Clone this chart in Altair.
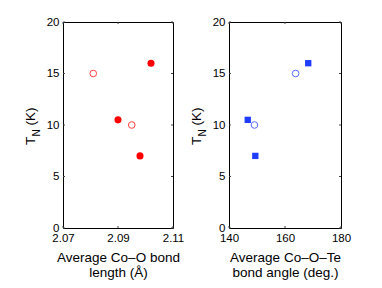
import altair as alt
import pandas as pd

# ---- data ----
bond_len_filled = [2.090, 2.098, 2.102]
tn_len_filled = [10.5, 7.0, 16.0]
bond_len_open = [2.081, 2.095]
tn_len_open = [15.0, 10.0]

angle_filled = [146.7, 149.4, 168.3]
tn_ang_filled = [10.5, 7.0, 16.0]
angle_open = [149.1, 163.8]
tn_ang_open = [10.0, 15.0]

x1_ticks = [2.07, 2.09, 2.11]
x2_ticks = [140, 160, 180]
y_ticks = [0, 5, 10, 15, 20]

RED = "#ff0000"
BLUE = "#1f3cff"
FONT = "Liberation Sans"
W1, W2, H = 110, 112, 206


def panel(xf, yf, xo, yo, xticks, xdom, color, shape, size, xtitle, width, fmt):
    xs = alt.Scale(domain=xdom, nice=False, zero=False)
    ys = alt.Scale(domain=[0, 20], nice=False)
    filled = pd.DataFrame({"x": xf, "y": yf})
    opened = pd.DataFrame({"x": xo, "y": yo})
    xt = pd.DataFrame({"x": xticks})
    yt = pd.DataFrame({"y": y_ticks})

    xaxis = alt.Axis(values=xticks, format=fmt, ticks=False, domain=True, domainColor="black",
                     grid=False, labelFlush=False, labelPadding=4, title=xtitle,
                     titlePadding=7, titleLineHeight=14.5, titleFont=FONT,
                     titleFontSize=13.5, titleFontWeight="normal", titleColor="black",
                     labelFont=FONT, labelFontSize=11.5, labelColor="black")
    yaxis = alt.Axis(values=y_ticks, ticks=False, domain=True, domainColor="black",
                     grid=False, labelFlush=False, labelPadding=4, title=None,
                     labelFont=FONT, labelFontSize=11.5, labelColor="black")
    xtop = alt.Axis(orient="top", values=xticks, ticks=False, labels=False, domain=True,
                    domainColor="black", grid=False, title=None)
    yright = alt.Axis(orient="right", values=y_ticks, ticks=False, labels=False, domain=True,
                      domainColor="black", grid=False, title=None)

    pts_f = alt.Chart(filled).mark_point(shape=shape, filled=True, size=size, color=color, opacity=1).encode(
        x=alt.X("x:Q", scale=xs, axis=xaxis), y=alt.Y("y:Q", scale=ys, axis=yaxis))
    pts_o = alt.Chart(opened).mark_point(shape="circle", filled=False, size=44, color=color,
                                         strokeWidth=1, opacity=0.75).encode(
        x=alt.X("x:Q", scale=xs, axis=None), y=alt.Y("y:Q", scale=ys, axis=None))

    tb = alt.Chart(xt).mark_rule(color="#444", strokeWidth=1)
    tick_b = tb.encode(x=alt.X("x:Q", scale=xs, axis=None), y=alt.value(H - 2), y2=alt.value(H))
    tick_t = tb.encode(x=alt.X("x:Q", scale=xs, axis=xtop), y=alt.value(0), y2=alt.value(2))
    tl = alt.Chart(yt).mark_rule(color="#444", strokeWidth=1)
    tick_l = tl.encode(y=alt.Y("y:Q", scale=ys, axis=None), x=alt.value(0), x2=alt.value(2))
    tick_r = tl.encode(y=alt.Y("y:Q", scale=ys, axis=yright), x=alt.value(width - 2), x2=alt.value(width))

    one = pd.DataFrame({"a": [0]})
    t_T = alt.Chart(one).mark_text(text="T", angle=270, align="left", baseline="alphabetic",
                                   font=FONT, fontSize=13.5, color="black").encode(
        x=alt.value(-28.5), y=alt.value(123))
    t_N = alt.Chart(one).mark_text(text="N", angle=270, align="left", baseline="alphabetic",
                                   font=FONT, fontSize=10, color="black").encode(
        x=alt.value(-23.5), y=alt.value(114.5))
    t_K = alt.Chart(one).mark_text(text="(K)", angle=270, align="left", baseline="alphabetic",
                                   font=FONT, fontSize=13.5, color="black").encode(
        x=alt.value(-28.5), y=alt.value(103.5))

    return alt.layer(pts_o, pts_f, tick_b, tick_t, tick_l, tick_r, t_T, t_N, t_K).resolve_axis(
        x="independent", y="independent").properties(width=width, height=H)


left = panel(bond_len_filled, tn_len_filled, bond_len_open, tn_len_open, x1_ticks, [2.07, 2.11],
             RED, "circle", 50, ["Average Co\u2013O bond", "length (\u00c5)"], W1, ".2f")
right = panel(angle_filled, tn_ang_filled, angle_open, tn_ang_open, x2_ticks, [140, 180],
              BLUE, "square", 40, ["Average Co\u2013O\u2013Te", "bond angle (deg.)"], W2, "d")

chart = alt.hconcat(left, right, spacing=4).properties(
    padding={"left": 15, "top": 7, "right": 5, "bottom": 5}
).configure_view(stroke=None).configure(background="white")

chart.save("out.html", embed_options={"renderer": "svg", "actions": False})
